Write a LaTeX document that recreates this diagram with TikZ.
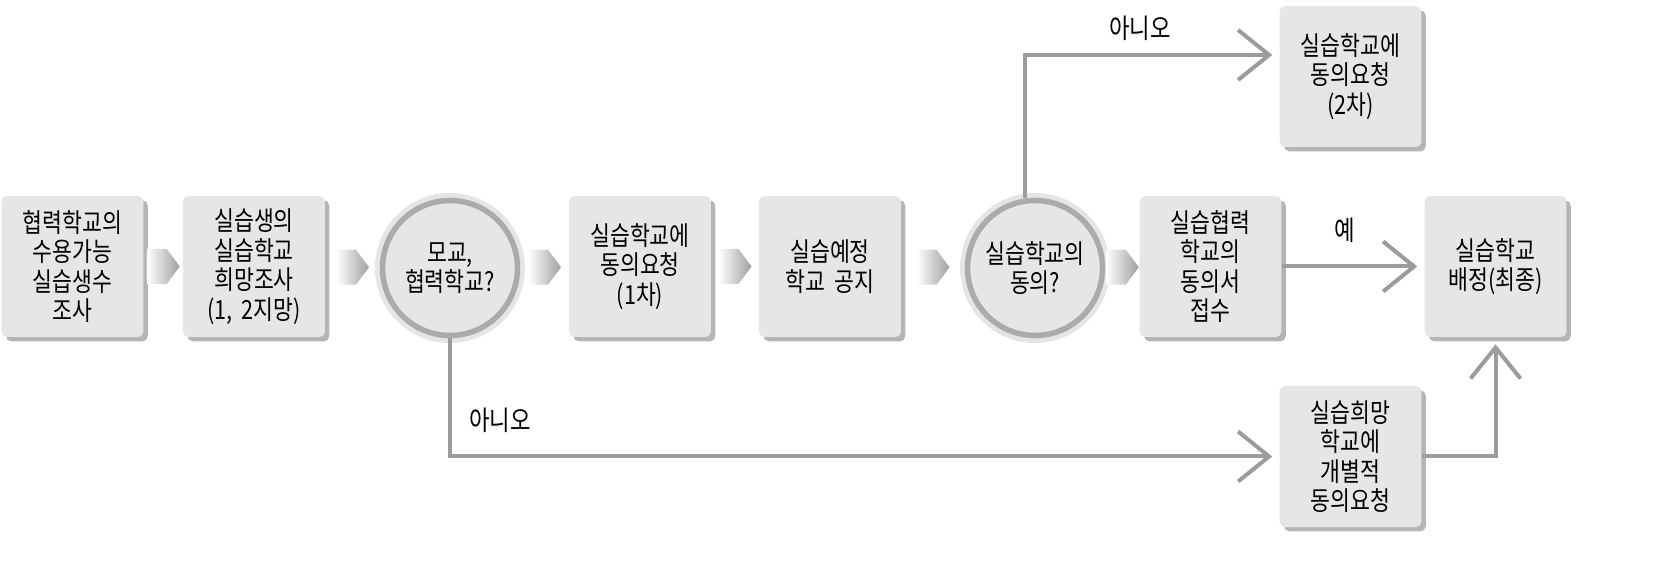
\documentclass[tikz,border=0pt]{standalone}
\usepackage{fontspec}
\setmainfont{Noto Sans CJK KR}[FakeStretch=0.82]
\usetikzlibrary{arrows.meta,shadows,calc}
\definecolor{boxgray}{HTML}{E6E6E7}
\definecolor{shadowgray}{HTML}{B5B5B7}
\definecolor{linegray}{HTML}{9C9C9E}
\tikzset{
  stepbox/.style={fill=boxgray, rounded corners=3pt, minimum width=2.66cm, minimum height=2.82cm,
    text width=2.6cm, align=center, font=\fontsize{15}{16.8}\selectfont,
    general shadow={fill=shadowgray, shadow xshift=2.5pt, shadow yshift=-2.5pt}},
  askcircle/.style={circle, fill=boxgray, draw=linegray!85, line width=0.11cm, minimum size=2.7cm,
    align=center, font=\fontsize{15}{16.8}\selectfont,
    preaction={draw=gray!20, line width=0.3cm}},
  conn/.style={draw=linegray, line width=0.08cm, -{Straight Barb[length=0.62cm,width=1.0cm,line width=0.08cm]}},
  lbl/.style={font=\fontsize{15.5}{17}\selectfont}
}
\newcommand\chevron[2]{%
  \shade[left color=white, right color=gray!75]
    ($(#1.east)!0.5!(#2.west)$) ++(-0.33,-0.35) -- ++(0.40,0) -- ++(0.26,0.35)
    -- ++(-0.26,0.35) -- ++(-0.40,0) -- cycle;}
\begin{document}
\begin{tikzpicture}
  \useasboundingbox (0,0) rectangle (33.12,11.26);
  % main row
  \node[stepbox] (b1) at (1.45,5.93) {협력학교의\\수용가능\\실습생수\\조사};
  \node[stepbox] (b2) at (5.08,5.93) {실습생의\\실습학교\\희망조사\\(1, 2지망)};
  \node[askcircle] (c1) at (9.0,5.9) {모교,\\협력학교?};
  \node[stepbox] (b3) at (12.80,5.93) {실습학교에\\동의요청\\(1차)};
  \node[stepbox] (b4) at (16.60,5.93) {실습예정\\학교 공지};
  \node[askcircle] (c2) at (20.7,5.9) {실습학교의\\동의?};
  \node[stepbox] (b5) at (24.21,5.93) {실습협력\\학교의\\동의서\\접수};
  \node[stepbox] (b6) at (29.91,5.93) {실습학교\\배정(최종)};
  % side boxes
  \node[stepbox] (b7) at (27.01,9.73) {실습학교에\\동의요청\\(2차)};
  \node[stepbox] (b8) at (27.01,2.13) {실습희망\\학교에\\개별적\\동의요청};
  % chevrons
  \chevron{b1}{b2}
  \chevron{b2}{c1}
  \chevron{c1}{b3}
  \chevron{b3}{b4}
  \chevron{b4}{c2}
  \chevron{c2}{b5}
  % connectors
  \draw[conn, shorten >=4pt] (c1.south) |- (b8.west);
  \draw[conn, shorten >=4pt] ([xshift=-0.2cm]c2.north) |- ([yshift=0.43cm]b7.west);
  \draw[conn, shorten >=4pt] (b5.east) -- (b6.west);
  \draw[conn, shorten >=4pt] (b8.east) -| (b6.south);
  \node[lbl] (no1) at (10.0,2.86) {아니오};
  \node[lbl] (no2) at (22.8,10.7) {아니오};
  \node[lbl] (yes) at (26.9,6.66) {예};
\end{tikzpicture}
\end{document}
